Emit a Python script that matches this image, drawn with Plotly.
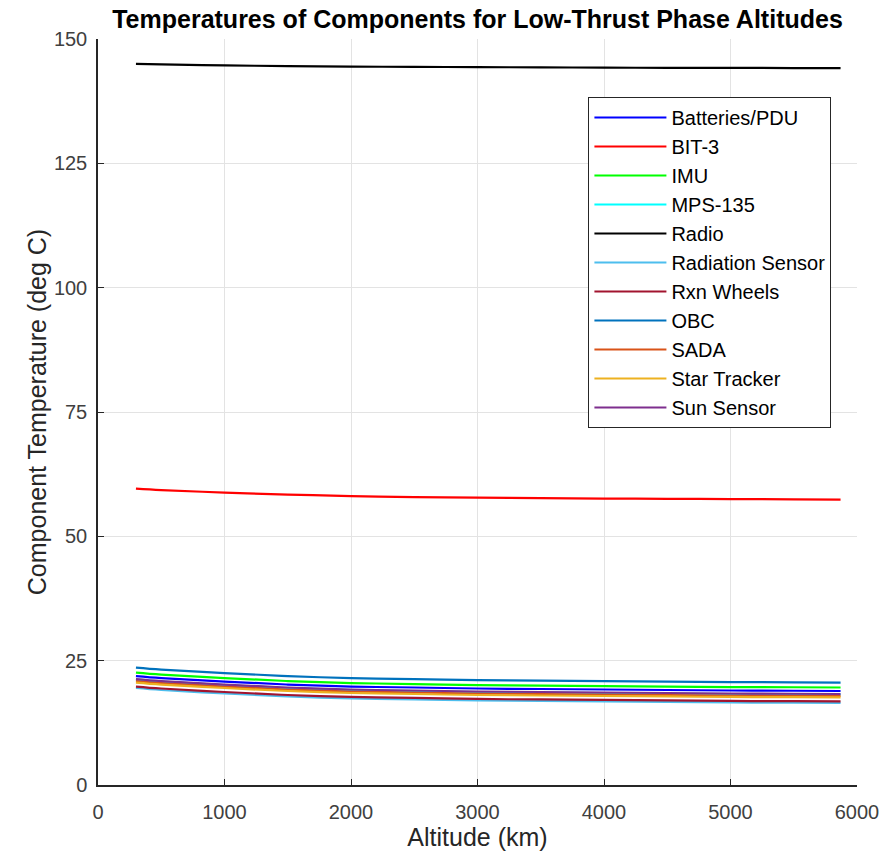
import plotly.graph_objects as go

altitude = [300, 500, 1000, 1500, 2000, 2500, 3000, 3500, 4000, 4500, 5000, 5500, 5870]

names = ["Batteries/PDU", "BIT-3", "IMU", "MPS-135", "Radio", "Radiation Sensor",
         "Rxn Wheels", "OBC", "SADA", "Star Tracker", "Sun Sensor"]

batteries = [21.9, 21.5, 20.8, 20.2, 19.8, 19.6, 19.4, 19.3, 19.2, 19.1, 19.0, 18.95, 18.9]
bit3 = [59.6, 59.3, 58.8, 58.4, 58.1, 57.9, 57.8, 57.7, 57.6, 57.55, 57.5, 57.45, 57.4]
imu = [22.6, 22.2, 21.5, 20.9, 20.5, 20.3, 20.1, 20.0, 19.9, 19.8, 19.7, 19.65, 19.6]
mps135 = [21.2, 20.8, 20.1, 19.5, 19.1, 18.9, 18.7, 18.6, 18.5, 18.4, 18.3, 18.25, 18.2]
radio = [145.0, 144.9, 144.7, 144.55, 144.45, 144.4, 144.35, 144.3, 144.25, 144.2, 144.2, 144.15, 144.15]
radiation = [19.5, 19.1, 18.4, 17.8, 17.4, 17.2, 17.0, 16.9, 16.8, 16.7, 16.6, 16.55, 16.5]
rxn = [19.8, 19.4, 18.7, 18.1, 17.7, 17.5, 17.3, 17.2, 17.1, 17.0, 16.9, 16.85, 16.8]
obc = [23.6, 23.2, 22.5, 21.9, 21.5, 21.3, 21.1, 21.0, 20.9, 20.8, 20.7, 20.65, 20.6]
sada = [20.9, 20.5, 19.8, 19.2, 18.8, 18.6, 18.4, 18.3, 18.2, 18.1, 18.0, 17.95, 17.9]
star = [20.6, 20.2, 19.5, 18.9, 18.5, 18.3, 18.1, 18.0, 17.9, 17.8, 17.7, 17.65, 17.6]
sun = [21.3, 20.9, 20.2, 19.6, 19.2, 19.0, 18.8, 18.7, 18.6, 18.5, 18.4, 18.35, 18.3]

series = [batteries, bit3, imu, mps135, radio, radiation, rxn, obc, sada, star, sun]
colors = ["#0000ff", "#ff0000", "#00ff00", "#00ffff", "#000000", "#4dbeee",
          "#a2142f", "#0072bd", "#d95319", "#edb120", "#7e2f8e"]

x_ticks = [0, 1000, 2000, 3000, 4000, 5000, 6000]
y_ticks = [0, 25, 50, 75, 100, 125, 150]

fig = go.Figure()
for n, s, c in zip(names, series, colors):
    fig.add_trace(go.Scatter(x=altitude, y=s, name=n, mode="lines",
                             line=dict(color=c, width=2.2, shape="spline")))

FONT = "Liberation Sans, Arial, sans-serif"
tick_font = dict(family=FONT, size=20, color="#404040")
axis_title_font = dict(family=FONT, size=25, color="#262626")

fig.update_layout(
    width=891, height=861,
    margin=dict(l=98, r=30, t=39, b=76),
    plot_bgcolor="white", paper_bgcolor="white",
    title=dict(text="<b>Temperatures of Components for Low-Thrust Phase Altitudes</b>",
               x=0.5, xref="paper", xanchor="center", y=1 - 19 / 861, yanchor="middle",
               font=dict(family=FONT, size=25, color="#000000")),
    xaxis=dict(range=[0, 6000], tickvals=x_ticks, ticks="inside", ticklen=6, tickcolor="#262626",
               showline=True, linecolor="#262626", linewidth=1.5, showgrid=True, gridcolor="#e3e3e3",
               zeroline=False, tickfont=tick_font, ticklabeloverflow="allow", ticklabelstandoff=8,
               title=dict(text="Altitude (km)", font=axis_title_font, standoff=4)),
    yaxis=dict(range=[0, 150], tickvals=y_ticks, ticks="inside", ticklen=6, tickcolor="#262626",
               showline=True, linecolor="#262626", linewidth=1.5, showgrid=True, gridcolor="#e3e3e3",
               zeroline=False, tickfont=tick_font, ticklabelstandoff=5,
               title=dict(text="Component Temperature (deg C)", font=axis_title_font, standoff=0)),
    legend=dict(x=(591 - 98) / 763, y=(785 - 97) / 746, xanchor="left", yanchor="top",
                bordercolor="#262626", borderwidth=1, bgcolor="white", itemwidth=72,
                font=dict(family=FONT, size=20, color="#000000")),
    showlegend=True,
)

fig.write_html("out.html")
